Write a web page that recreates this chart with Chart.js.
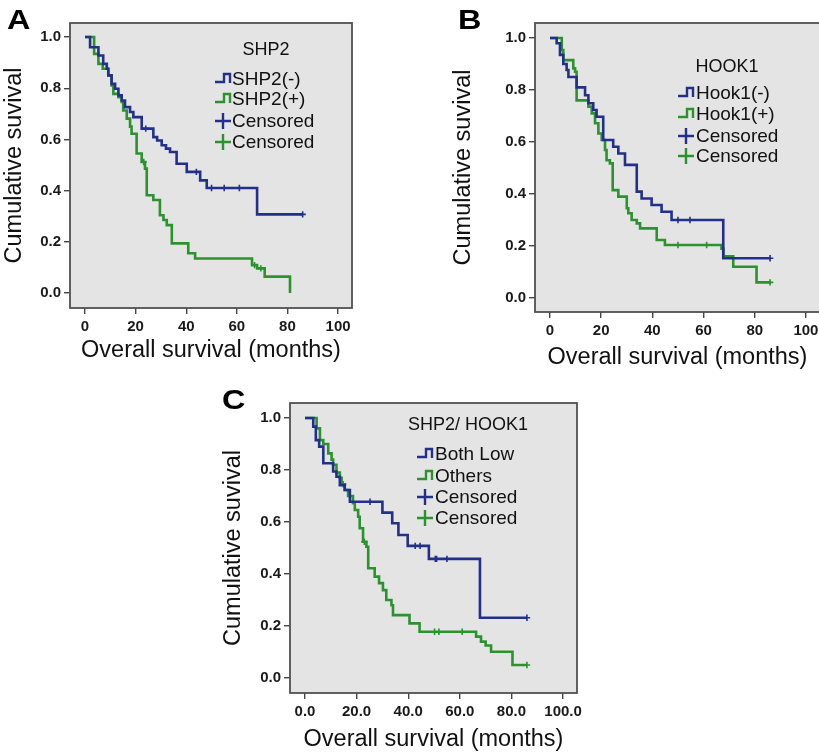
<!DOCTYPE html>
<html><head><meta charset="utf-8">
<script src="https://cdn.jsdelivr.net/npm/chart.js@4/dist/chart.umd.min.js"></script>
<style>
html,body{margin:0;padding:0;width:819px;height:756px;overflow:hidden;background:#fff;}
canvas{position:absolute;left:0;top:0;}
.lbl{position:absolute;font:bold 27px 'Liberation Sans',Arial,sans-serif;line-height:27px;transform:scaleX(1.2);transform-origin:left top;color:#000;}
</style></head><body>
<canvas id="cA" width="830" height="756"></canvas>
<canvas id="cB" width="830" height="756"></canvas>
<canvas id="cC" width="830" height="756"></canvas>
<div class="lbl" style="left:7px;top:7px">A</div>
<div class="lbl" style="left:458px;top:7px">B</div>
<div class="lbl" style="left:222px;top:387px">C</div>
<script>
// ---- ticks ----
const xTickValues = [0, 20, 40, 60, 80, 100];
const xTickLabelsAB = ['0', '20', '40', '60', '80', '100'];
const xTickLabelsC = ['0.0', '20.0', '40.0', '60.0', '80.0', '100.0'];
const yTickValues = [0, 0.2, 0.4, 0.6, 0.8, 1.0];
const yTickLabels = ['0.0', '0.2', '0.4', '0.6', '0.8', '1.0'];

// ---- Panel A: SHP2 ----
const shp2NegTime = [0, 2, 5.3, 7.2, 8.6, 9.2, 10.5, 11.9, 13.2, 14.5, 15.8, 17.8, 19.1, 22.4, 27, 28.5, 30.3, 32, 33.6, 36.2, 40.2, 45.5, 48.1, 68, 86];
const shp2NegSurv = [1, 0.96, 0.928, 0.895, 0.876, 0.85, 0.817, 0.798, 0.772, 0.752, 0.726, 0.707, 0.687, 0.642, 0.609, 0.596, 0.577, 0.564, 0.551, 0.505, 0.473, 0.44, 0.41, 0.307, 0.307];
const shp2NegCensored = [24, 44, 50, 55, 61, 86];
const shp2PosTime = [0, 3.6, 5.3, 7.0, 9.2, 10.5, 11.2, 13.2, 14.5, 15.1, 16.5, 17.8, 18.4, 20.4, 22.4, 23.7, 24.4, 27, 29.6, 31, 32.3, 34.3, 40.8, 43.5, 66, 68, 71, 81];
const shp2PosSurv = [1, 0.934, 0.895, 0.876, 0.85, 0.811, 0.778, 0.765, 0.746, 0.713, 0.681, 0.65, 0.622, 0.545, 0.512, 0.486, 0.382, 0.363, 0.304, 0.285, 0.265, 0.194, 0.155, 0.135, 0.109, 0.096, 0.064, 0];
const shp2PosCensored = [23.2, 67, 69.5];

// ---- Panel B: HOOK1 ----
const hookNegTime = [0, 2.6, 3.9, 5.2, 6.5, 7.2, 10.4, 13.7, 15, 16.9, 18.2, 20.8, 24.7, 26.7, 29.3, 33.9, 35.8, 39.7, 43.6, 47.5, 67.7, 86];
const hookNegSurv = [1, 0.98, 0.935, 0.90, 0.877, 0.85, 0.81, 0.78, 0.749, 0.723, 0.697, 0.608, 0.582, 0.556, 0.512, 0.409, 0.383, 0.358, 0.332, 0.30, 0.153, 0.153];
const hookNegCensored = [50, 54.7, 86];
const hookPosTime = [0, 4.6, 5.2, 9.1, 9.8, 10.4, 15, 16.3, 17.6, 18.9, 20.2, 21.5, 22.1, 23.4, 24.5, 26.7, 30, 30.6, 31.9, 33.9, 35.2, 41.7, 44.9, 67, 67.8, 71.6, 80.7, 86];
const hookPosSurv = [1, 0.954, 0.915, 0.883, 0.87, 0.76, 0.736, 0.71, 0.672, 0.633, 0.608, 0.569, 0.53, 0.518, 0.415, 0.39, 0.345, 0.326, 0.30, 0.287, 0.268, 0.223, 0.204, 0.19, 0.16, 0.12, 0.06, 0.06];
const hookPosCensored = [50, 61.2, 86];

// ---- Panel C: SHP2/HOOK1 ----
const bothLowTime = [0, 3.2, 4.2, 5.5, 7.1, 10.9, 12.2, 13.5, 15.4, 17.4, 30, 33.8, 36.2, 39.8, 48, 67.8, 86];
const bothLowSurv = [1, 0.967, 0.915, 0.89, 0.826, 0.794, 0.774, 0.742, 0.723, 0.678, 0.636, 0.595, 0.55, 0.508, 0.458, 0.232, 0.232];
const bothLowCensored = [25.2, 42.7, 44.6, 50.5, 51, 55, 86];
const othersTime = [0, 4.5, 5.8, 7.1, 9, 10.3, 10.9, 12.2, 13.5, 14.2, 15.4, 16.7, 18.6, 19.3, 20.6, 21.2, 22.5, 23.8, 24.5, 27, 28.7, 30.2, 31.5, 33.5, 34.1, 40.5, 44.4, 66.3, 68.2, 70, 72.1, 80.4, 86];
const othersSurv = [1, 0.96, 0.915, 0.90, 0.864, 0.84, 0.82, 0.79, 0.77, 0.745, 0.723, 0.70, 0.672, 0.646, 0.62, 0.576, 0.524, 0.505, 0.422, 0.39, 0.365, 0.338, 0.30, 0.28, 0.242, 0.21, 0.178, 0.159, 0.14, 0.125, 0.101, 0.05, 0.05];
const othersCensored = [14.8, 23, 50.2, 51.9, 60.9, 86];

const BLUE = '#22308a';
const GREEN = '#2a932e';
const FONT = "'Liberation Sans', Arial, sans-serif";
Chart.defaults.font.family = FONT;

function survAt(times, surv, t) {
  let s = surv[0];
  for (let i = 0; i < times.length; i++) { if (times[i] <= t) s = surv[i]; }
  return s;
}

const decor = {
  id: 'kmDecor',
  beforeDraw(chart, args, o) {
    const a = chart.chartArea, ctx = chart.ctx;
    ctx.save(); ctx.fillStyle = '#e4e4e4';
    ctx.fillRect(a.left, a.top, a.right - a.left, a.bottom - a.top); ctx.restore();
  },
  beforeDatasetsDraw(chart) {
    const a = chart.chartArea, ctx = chart.ctx;
    ctx.save(); ctx.strokeStyle = '#505050'; ctx.lineWidth = 1.8;
    ctx.strokeRect(a.left, a.top, a.right - a.left, a.bottom - a.top); ctx.restore();
  },
  afterDraw(chart, args, o) {
    const ctx = chart.ctx;
    ctx.save();
    ctx.fillStyle = '#111';
    ctx.textBaseline = 'middle';
    ctx.textAlign = 'center';
    ctx.font = '18px ' + FONT;
    ctx.fillText(o.title, o.titleX, o.titleY + 1);
    ctx.textAlign = 'left';
    ctx.font = '19px ' + FONT;
    o.items.forEach((it, i) => {
      const y = o.rows[i], x = o.iconX;
      ctx.strokeStyle = it.color; ctx.lineWidth = 2.4;
      ctx.beginPath();
      if (it.type === 'step') {
        ctx.moveTo(x, y + 3); ctx.lineTo(x + 9, y + 3); ctx.lineTo(x + 9, y - 5);
        ctx.lineTo(x + 15, y - 5); ctx.lineTo(x + 15, y + 4);
      } else {
        ctx.moveTo(x, y); ctx.lineTo(x + 16, y);
        ctx.moveTo(x + 8, y - 8); ctx.lineTo(x + 8, y + 8);
      }
      ctx.stroke();
      ctx.fillStyle = '#111';
      ctx.fillText(it.label, o.textX, y + 1);
    });
    ctx.restore();
  }
};

function makePanel(id, p) {
  const W = 830, H = 756, fs = 23.5;
  const padL = p.yTitleX - fs / 2;
  const padB = H - (p.xTitleY + fs / 2);
  const ds = [];
  p.series.forEach(s => {
    ds.push({
      data: s.times.map((t, i) => ({ x: t, y: s.surv[i] })),
      showLine: true, stepped: true, borderColor: s.color, borderWidth: 2.6,
      pointRadius: 0, fill: false
    });
  });
  p.series.forEach(s => {
    ds.push({
      data: s.cens.map(t => ({ x: t, y: survAt(s.times, s.surv, t) })),
      showLine: false, pointStyle: 'cross', pointRadius: 3.2, borderColor: s.color,
      borderWidth: 1.6, backgroundColor: s.color
    });
  });
  const tickFont = { size: 15, weight: 'bold' };
  new Chart(document.getElementById(id), {
    type: 'scatter',
    data: { datasets: ds },
    options: {
      animation: false, responsive: false, devicePixelRatio: 1, events: [],
      layout: { padding: { left: padL, top: p.area.top, right: W - p.area.right, bottom: padB } },
      plugins: { legend: { display: false }, tooltip: { enabled: false }, kmDecor: p.legend },
      scales: {
        x: {
          type: 'linear', min: p.xMin, max: p.xMax,
          afterBuildTicks: s => { s.ticks = xTickValues.map(v => ({ value: v })); },
          afterFit: s => { s.height = H - padB - p.area.bottom; },
          ticks: { callback: (v, i) => p.xLabels[i], font: tickFont, color: '#1a1a1a', padding: 4, maxRotation: 0, autoSkip: false },
          grid: { drawOnChartArea: false, drawTicks: true, tickLength: 6, color: '#444', lineWidth: 1.4 },
          border: { display: false },
          title: { display: true, text: 'Overall survival (months)', font: { size: fs, lineHeight: 1 }, color: '#111', padding: 0 }
        },
        y: {
          type: 'linear', min: p.yMin, max: p.yMax,
          afterBuildTicks: s => { s.ticks = yTickValues.map(v => ({ value: v })); },
          afterFit: s => { s.width = p.area.left - padL; },
          ticks: { callback: (v, i) => yTickLabels[i], font: tickFont, color: '#1a1a1a', padding: 3, autoSkip: false },
          grid: { drawOnChartArea: false, drawTicks: true, tickLength: 6, color: '#444', lineWidth: 1.4 },
          border: { display: false },
          title: { display: true, text: 'Cumulative suvival', font: { size: fs, lineHeight: 1 }, color: '#111', padding: 0 }
        }
      }
    },
    plugins: [decor]
  });
}

makePanel('cA', {
  area: { left: 70, top: 23, right: 352, bottom: 308 },
  xMin: -5.93, xMax: 105.5, yMin: -0.0586, yMax: 1.0547,
  yTitleX: 15, xTitleY: 351, xLabels: xTickLabelsAB,
  series: [
    { times: shp2NegTime, surv: shp2NegSurv, cens: shp2NegCensored, color: BLUE },
    { times: shp2PosTime, surv: shp2PosSurv, cens: shp2PosCensored, color: GREEN }
  ],
  legend: {
    title: 'SHP2', titleX: 266, titleY: 49, iconX: 215, textX: 232, rows: [79, 99, 121, 142],
    items: [
      { label: 'SHP2(-)', color: BLUE, type: 'step' },
      { label: 'SHP2(+)', color: GREEN, type: 'step' },
      { label: 'Censored', color: BLUE, type: 'cross' },
      { label: 'Censored', color: GREEN, type: 'cross' }
    ]
  }
});

makePanel('cB', {
  area: { left: 535, top: 23, right: 820, bottom: 312 },
  xMin: -5.86, xMax: 105.5, yMin: -0.0538, yMax: 1.0577,
  yTitleX: 464, xTitleY: 358, xLabels: xTickLabelsAB,
  series: [
    { times: hookNegTime, surv: hookNegSurv, cens: hookNegCensored, color: BLUE },
    { times: hookPosTime, surv: hookPosSurv, cens: hookPosCensored, color: GREEN }
  ],
  legend: {
    title: 'HOOK1', titleX: 727, titleY: 66, iconX: 678, textX: 696, rows: [93, 114, 136, 156],
    items: [
      { label: 'Hook1(-)', color: BLUE, type: 'step' },
      { label: 'Hook1(+)', color: GREEN, type: 'step' },
      { label: 'Censored', color: BLUE, type: 'cross' },
      { label: 'Censored', color: GREEN, type: 'cross' }
    ]
  }
});

makePanel('cC', {
  area: { left: 290, top: 403, right: 577, bottom: 693 },
  xMin: -5.81, xMax: 105.4, yMin: -0.0577, yMax: 1.0577,
  yTitleX: 234, xTitleY: 740, xLabels: xTickLabelsC,
  series: [
    { times: bothLowTime, surv: bothLowSurv, cens: bothLowCensored, color: BLUE },
    { times: othersTime, surv: othersSurv, cens: othersCensored, color: GREEN }
  ],
  legend: {
    title: 'SHP2/ HOOK1', titleX: 468, titleY: 424, iconX: 417, textX: 435, rows: [454, 476, 497, 518],
    items: [
      { label: 'Both Low', color: BLUE, type: 'step' },
      { label: 'Others', color: GREEN, type: 'step' },
      { label: 'Censored', color: BLUE, type: 'cross' },
      { label: 'Censored', color: GREEN, type: 'cross' }
    ]
  }
});
</script>
</body></html>
